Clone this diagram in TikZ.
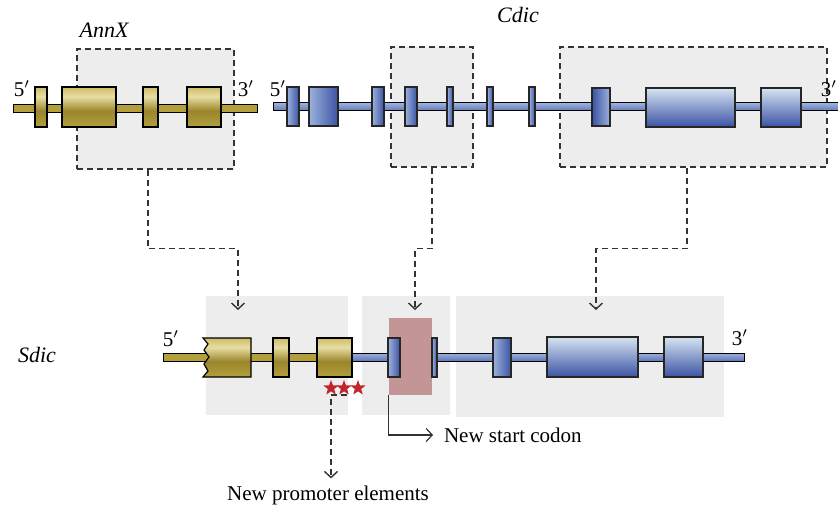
\documentclass[tikz,border=0pt]{standalone}
\usepackage{fontspec}
\setmainfont{Liberation Serif}
\usetikzlibrary{fit,shapes.geometric,arrows.meta}

\definecolor{boxgray}{HTML}{ECEDEC}
\definecolor{dashgray}{HTML}{333333}
\definecolor{yledge}{HTML}{CDBD66}
\definecolor{yltop}{HTML}{E8DEA3}
\definecolor{ylmid}{HTML}{9A852C}
\definecolor{ylbot}{HTML}{B3A03C}
\definecolor{bllite}{HTML}{D6E4F1}
\definecolor{blmid}{HTML}{B4C7E5}
\definecolor{bldark}{HTML}{3B53A4}
\definecolor{blside}{HTML}{9CB2DC}
\definecolor{pinkbox}{HTML}{C49596}
\definecolor{starred}{HTML}{C0272D}

\pgfdeclareverticalshading{yexonshade}{100bp}{color(0bp)=(ylbot); color(25bp)=(ylbot);
    color(45bp)=(ylmid); color(63bp)=(yltop); color(75bp)=(yledge); color(100bp)=(yledge)}

\begin{document}
\begin{tikzpicture}[x=0.5pt,y=-0.5pt,>={Straight Barb[length=3pt,width=6.5pt]},
    endlbl/.style={font=\fontsize{10.5}{12}\selectfont},
    gname/.style={font=\fontsize{11}{13}\selectfont\itshape},
    dbox/.style={draw=dashgray,dash pattern=on 3pt off 2pt,line width=0.7pt,fill=boxgray,inner sep=0pt},
    gbox/.style={fill=boxgray,inner sep=0pt},
    conn/.style={->,draw=dashgray,dash pattern=on 3pt off 2pt,line width=0.7pt},
    yline/.style={draw=black,line width=0.5pt,top color=ylbot,middle color=yltop,bottom color=ylbot},
    bline/.style={draw=black,line width=0.5pt,top color=blside,middle color=bllite,bottom color=bldark!80},
    yexon/.style={draw=black,line width=0.6pt,shading=yexonshade},
    bexonv/.style={draw=black!85,line width=0.6pt,top color=bllite,middle color=blmid,bottom color=bldark},
    bexonh/.style={draw=black!85,line width=0.6pt,left color=blside,middle color=bllite,right color=bldark},
    bexonr/.style={draw=black!85,line width=0.6pt,left color=bldark,middle color=bllite,right color=blside},
    redstar/.style={star,star points=5,star point ratio=2.4,fill=starred,inner sep=0pt,minimum size=8pt}]
    \useasboundingbox (0,0) rectangle (838,507);

    % boxes round the parts that are taken over
    \node[dbox,fit={(77,49) (234,169)}] (annbox) {};
    \node[dbox,fit={(391,47) (473,167)}] (cdicboxa) {};
    \node[dbox,fit={(560,47) (827,167)}] (cdicboxb) {};
    \node[gbox,fit={(206,296) (348,415)}] (sboxa) {};
    \node[gbox,fit={(362,296) (450,415)}] (sboxb) {};
    \node[gbox,fit={(456,296) (724,417)}] (sboxc) {};

    % AnnX
    \draw[yline] (13,105) rectangle (257,113);
    \foreach \a/\b in {35/47, 62/116, 143/158, 187/221}
        \draw[yexon] (\a,87) rectangle (\b,127);

    % Cdic
    \draw[bline] (273,103) rectangle (842,111);
    \foreach \a/\b in {287/299, 309/338, 372/384, 405/417, 447/453, 487/493, 529/535}
        \draw[bexonh] (\a,87) rectangle (\b,126);
    \draw[bexonr] (592,88) rectangle (610,126);
    \foreach \a/\b in {646/735, 761/801}
        \draw[bexonv] (\a,88) rectangle (\b,127);

    % Sdic
    \draw[yline] (163,353) rectangle (352,361);
    \draw[bline] (352,353) rectangle (744,361);
    \node[fill=pinkbox,inner sep=0pt,fit={(389,318) (432,395)}] (pink) {};
    \draw[yexon] (203,338) -- (251,338) -- (251,377) -- (203,377) -- (208,371) -- (204,364)
        -- (209,357) -- (204,350) -- (208,344) -- cycle;
    \foreach \a/\b in {273/289, 317/352}
        \draw[yexon] (\a,338) rectangle (\b,377);
    \foreach \a/\b in {388/400, 432/437, 493/511}
        \draw[bexonh] (\a,338) rectangle (\b,377);
    \foreach \a/\b in {547/638, 664/703}
        \draw[bexonv] (\a,337) rectangle (\b,377);
    \foreach \i/\x in {1/331, 2/344, 3/358}
        \node[redstar] (star\i) at (\x,388) {};

    % labels
    \node[gname] (annxlbl) at (104,30) {AnnX};
    \node[gname] (cdiclbl) at (518,15) {Cdic};
    \node[gname] (sdiclbl) at (37,355) {Sdic};
    \node[endlbl] (ann5) at (22,89) {5$'$};
    \node[endlbl] (ann3) at (246,89) {3$'$};
    \node[endlbl] (cdic5) at (278,89) {5$'$};
    \node[endlbl] (cdic3) at (829,89) {3$'$};
    \node[endlbl] (sdic5) at (171,339) {5$'$};
    \node[endlbl] (sdic3) at (740,338) {3$'$};
    \node[endlbl] (promtext) at (328,495) {New promoter elements};
    \node[endlbl,anchor=west] (starttext) at (437,435) {New start codon};

    % where the parts go
    \coordinate (tipa) at (238,310);
    \coordinate (tipb) at (415,310);
    \coordinate (tipc) at (596,310);
    \coordinate (promo) at (347,395);
    \draw[conn] ([xshift=-3.75pt]annbox.south) -- ++(0,79) -| (tipa);
    \draw[conn] (cdicboxa.south) -- ++(0,81) -| (tipb);
    \draw[conn] ([xshift=-3.25pt]cdicboxb.south) -- ++(0,81) -| (tipc);
    \draw[conn] (promo) -| (star1 |- promtext.north);
    \draw[->,draw=black!80,line width=0.6pt,shorten >=2pt] (pink.south west) |- (starttext.west);
\end{tikzpicture}
\end{document}
